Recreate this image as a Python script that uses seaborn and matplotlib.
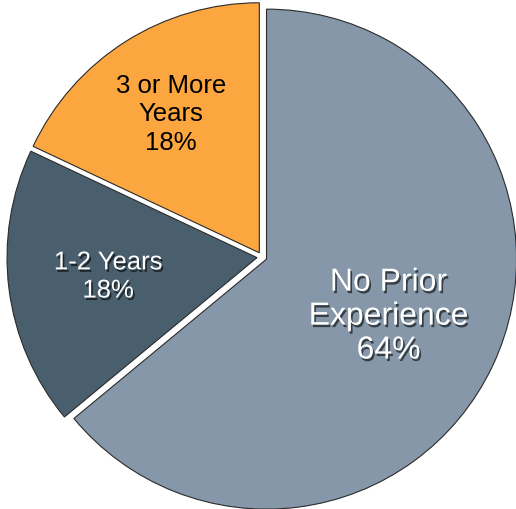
import numpy as np
import seaborn as sns
import matplotlib
matplotlib.use("Agg")
import matplotlib.pyplot as plt
import matplotlib.patheffects as pe

labels = ["No Prior\nExperience", "1-2 Years", "3 or More\nYears"]
shares = [64, 18, 18]
colors = ["#8597a9", "#4a5f6d", "#fba63f"]
text_colors = ["white", "white", "black"]
font_sizes = [23, 18.5, 18.5]
line_spacings = [1.17, 1.22, 1.22]
label_radius = [0.54, 0.60, 0.66]
shadowed = [True, True, False]

sns.set_theme(style="white")
plt.rcParams['font.family'] = ['Liberation Sans', 'DejaVu Sans']

fig = plt.figure(figsize=(5.16, 5.10), dpi=100)
ax = fig.add_axes([0, 0, 1, 1])

wedges, _ = ax.pie(shares, colors=colors, startangle=90, counterclock=False,
                   explode=[0.02, 0.02, 0.02],
                   wedgeprops=dict(edgecolor="#2b2b2b", linewidth=0.8))

for w, lab, s, tc, fs, ls, r, sh in zip(wedges, labels, shares, text_colors,
                                         font_sizes, line_spacings, label_radius, shadowed):
    mid = np.deg2rad((w.theta1 + w.theta2) / 2)
    cx, cy = w.center
    effects = []
    if sh:
        effects = [pe.SimplePatchShadow(offset=(1.2, -1.8), shadow_rgbFace="black", alpha=0.6),
                   pe.Normal()]
    ax.text(cx + r * np.cos(mid), cy + r * np.sin(mid), f"{lab}\n{s}%",
            ha="center", va="center", color=tc, fontsize=fs,
            linespacing=ls, path_effects=effects)

# put the pie where it sits in the picture, same scale on both axes
R = 250
ax.set_xlim(-262 / R, (516 - 262) / R)
ax.set_ylim(-(510 - 258) / R, 258 / R)
ax.set_aspect("auto")
ax.axis("off")

fig.savefig("out.png", dpi=100)
